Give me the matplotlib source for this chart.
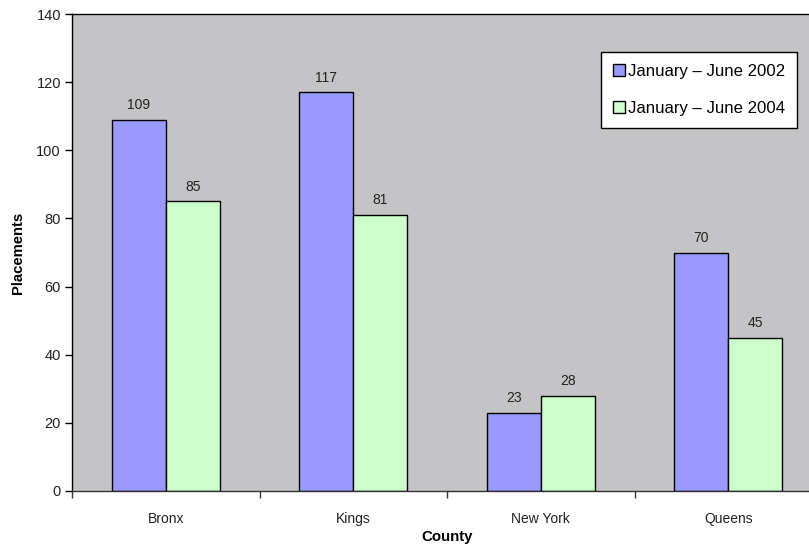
import matplotlib
matplotlib.use("Agg")
import matplotlib.pyplot as plt
import numpy as np

plt.rcParams['font.family'] = ['Liberation Sans', 'DejaVu Sans']

counties = ["Bronx", "Kings", "New York", "Queens"]
series_names = ["January \u2013 June 2002", "January \u2013 June 2004"]
placements_2002 = [109, 117, 23, 70]
placements_2004 = [85, 81, 28, 45]
y_ticks = [0, 20, 40, 60, 80, 100, 120, 140]

W, H = 809, 548
fig = plt.figure(figsize=(W / 100, H / 100), dpi=100)
left, right, top, bottom = 72, 822, 14, 491
ax = fig.add_axes([left / W, (H - bottom) / H, (right - left) / W, (bottom - top) / H])
ax.set_facecolor("#C4C3C6")

x = np.arange(len(counties))
bw = 0.288
b1 = ax.bar(x - bw / 2, placements_2002, bw, color="#9999FF", edgecolor="black",
            linewidth=1.0, label=series_names[0])
b2 = ax.bar(x + bw / 2, placements_2004, bw, color="#CCFFCC", edgecolor="black",
            linewidth=1.0, label=series_names[1])

for bars, vals in ((b1, placements_2002), (b2, placements_2004)):
    for rect, v in zip(bars, vals):
        ax.text(rect.get_x() + rect.get_width() / 2, v + 2.3, str(v),
                ha="center", va="bottom", fontsize=10, color="#222222")

ax.set_xlim(-0.5, len(counties) - 0.5)
ax.set_ylim(0, 140)
ax.set_yticks(y_ticks)
ax.set_xticks(x)
ax.set_xticklabels(counties)
ax.set_xticks(np.arange(len(counties) + 1) - 0.5, minor=True)
ax.tick_params(axis="x", which="major", length=0, pad=15, labelsize=10, labelcolor="#222222")
ax.tick_params(axis="x", which="minor", length=5, width=1, color="#333333", direction="out")
ax.tick_params(axis="y", length=5, width=1, color="black", pad=3, labelsize=10.5, labelcolor="#222222")

for s in ("top", "left"):
    ax.spines[s].set_color("black")
    ax.spines[s].set_linewidth(1)
ax.spines["bottom"].set_color("#333333")
ax.spines["bottom"].set_linewidth(1)
ax.spines["right"].set_visible(False)

fig.text(18 / W, 1 - 253 / H, "Placements", rotation=90, ha="center", va="center",
         fontsize=10.7, fontweight="bold")
fig.text(447 / W, 1 - 537 / H, "County", ha="center", va="center",
         fontsize=10.8, fontweight="bold")

leg = ax.legend(loc="upper left", bbox_to_anchor=(601 / W, 1 - 52 / H),
                bbox_transform=fig.transFigure, borderaxespad=0,
                fontsize=12.1, frameon=True, fancybox=False, edgecolor="black",
                framealpha=1, handlelength=0.7, handleheight=0.7,
                handletextpad=0.2, labelspacing=1.3, borderpad=0.72)
leg.get_frame().set_linewidth(1)

fig.savefig("out.png", dpi=100)
